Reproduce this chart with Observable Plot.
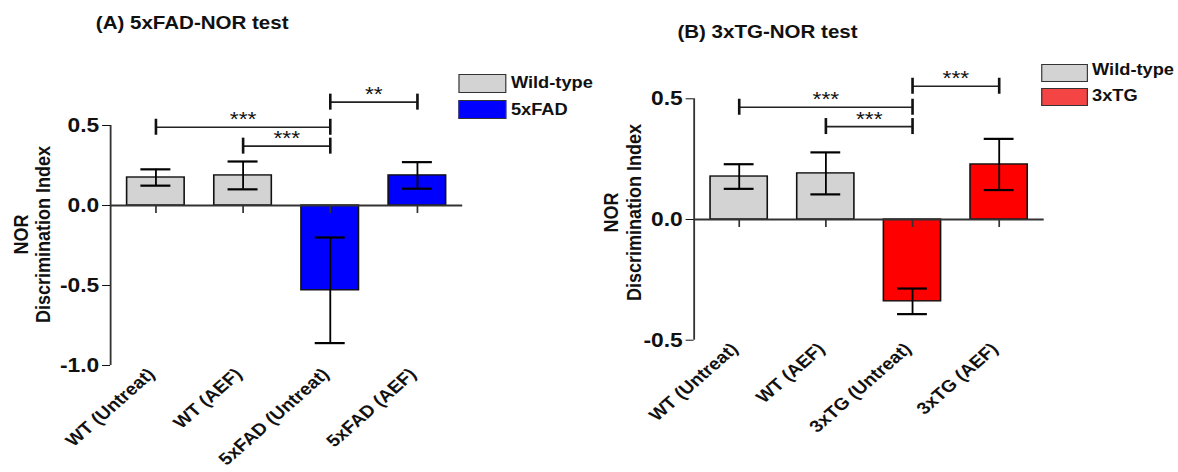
<!DOCTYPE html>
<html><head><meta charset="utf-8">
<script src="https://cdn.jsdelivr.net/npm/d3@7"></script>
<script src="https://cdn.jsdelivr.net/npm/@observablehq/plot@0.6"></script>
<style>
html,body{margin:0;padding:0;background:#fff;overflow:hidden;}
#wrap{position:relative;width:1033px;height:472px;transform:scaleX(1.1404);transform-origin:0 0;font-family:"Liberation Sans",Arial,sans-serif;color:#111;}
.title{position:absolute;font-size:18px;font-weight:bold;line-height:18px;white-space:nowrap;}
.sw{position:absolute;box-sizing:border-box;border:1.5px solid #333;}
.lt{position:absolute;font-size:16px;font-weight:bold;line-height:16px;white-space:nowrap;}
</style></head><body><div id="wrap"></div><script>
// ---------- Panel A data ----------
const titleA = "(A) 5xFAD-NOR test";
const categoriesA = ["WT (Untreat)", "WT (AEF)", "5xFAD (Untreat)", "5xFAD (AEF)"];
const groupsA = ["Wild-type", "Wild-type", "5xFAD", "5xFAD"];
const meansA = [0.175, 0.188, -0.530, 0.188];
const semA = [0.051, 0.087, 0.330, 0.083];
const yTicksA = [-1.0, -0.5, 0.0, 0.5];
const sigFromA = [0, 1, 2];
const sigToA = [2, 2, 3];
const sigYA = [0.489, 0.371, 0.646];
const sigLabelA = ["***", "***", "**"];
const legendLabelsA = ["Wild-type", "5xFAD"];
const barColorsA = ["#d3d3d3", "#0000ff"];
const legendColorsA = ["#d3d3d3", "#0000ff"];

// ---------- Panel B data ----------
const titleB = "(B) 3xTG-NOR test";
const categoriesB = ["WT (Untreat)", "WT (AEF)", "3xTG (Untreat)", "3xTG (AEF)"];
const groupsB = ["Wild-type", "Wild-type", "3xTG", "3xTG"];
const meansB = [0.178, 0.191, -0.339, 0.228];
const semB = [0.051, 0.087, 0.053, 0.106];
const yTicksB = [-0.5, 0.0, 0.5];
const sigFromB = [0, 1, 2];
const sigToB = [2, 2, 3];
const sigYB = [0.465, 0.385, 0.552];
const sigLabelB = ["***", "***", "***"];
const legendLabelsB = ["Wild-type", "3xTG"];
const barColorsB = ["#d3d3d3", "#ff0000"];
const legendColorsB = ["#d3d3d3", "#f44444"];

const yLabel = "NOR\nDiscrimination Index";
const FONT = '"Liberation Sans", Arial, sans-serif';
const XPAD = 0.52, BAR_HALF = 0.33, CAP_HALF = 0.172;

function panel(o) {
  const rows = o.cats.map((c, i) => ({i, cat: c, group: o.groups[i], mean: o.means[i], lo: o.means[i] - o.sems[i], hi: o.means[i] + o.sems[i]}));
  const sig = o.sigFrom.map((f, k) => ({from: f, to: o.sigTo[k], y: o.sigY[k], label: o.sigLabel[k]}));
  const xDomain = [-XPAD, o.cats.length - 1 + XPAD];
  const svg = Plot.plot({
    width: o.width, height: 472,
    marginLeft: o.marginLeft, marginRight: o.marginRight, marginTop: o.marginTop, marginBottom: o.marginBottom,
    style: {fontFamily: FONT, fontSize: "18px", fontWeight: "bold", color: "#111", background: "transparent", overflow: "visible"},
    x: {domain: xDomain},
    y: {domain: o.yDomain},
    color: {domain: o.colorDomain, range: o.colorRange},
    marks: [
      Plot.rectY(rows, {x1: d => d.i - BAR_HALF, x2: d => d.i + BAR_HALF, y: "mean", fill: "group", stroke: "#111", strokeWidth: 1.4}),
      Plot.ruleX(rows, {x: "i", y1: "lo", y2: "hi", stroke: "#000", strokeWidth: 1.6}),
      Plot.ruleY(rows, {y: "hi", x1: d => d.i - CAP_HALF, x2: d => d.i + CAP_HALF, stroke: "#000", strokeWidth: 2.2}),
      Plot.ruleY(rows, {y: "lo", x1: d => d.i - CAP_HALF, x2: d => d.i + CAP_HALF, stroke: "#000", strokeWidth: 2.2}),
      Plot.ruleY([0], {stroke: "#333", strokeWidth: 1.8}),
      Plot.ruleX(rows, {x: "i", y1: 0, y2: 0, insetBottom: -8, stroke: "#333", strokeWidth: 1.5}),
      Plot.ruleX([xDomain[0]], {stroke: "#333", strokeWidth: 1.6}),
      Plot.axisY({ticks: o.yTicks, tickFormat: d => d.toFixed(1), tickSize: 7, tickPadding: 3, label: null, fontSize: 20}),
      Plot.axisX({ticks: o.cats.map((c, i) => i), tickFormat: i => o.cats[i], tickRotate: -45, tickSize: 0, tickPadding: 6, dx: -4, label: null, fontSize: 17}),
      Plot.ruleY(sig, {y: "y", x1: "from", x2: "to", stroke: "#222", strokeWidth: 1.7}),
      Plot.ruleX(sig, {x: "from", y1: "y", y2: "y", insetTop: -8, insetBottom: -8, stroke: "#111", strokeWidth: 2.3}),
      Plot.ruleX(sig, {x: "to", y1: "y", y2: "y", insetTop: -8, insetBottom: -8, stroke: "#111", strokeWidth: 2.3}),
      Plot.text(sig, {x: d => (d.from + d.to) / 2, y: "y", text: "label", lineAnchor: "bottom", dy: -1, fontSize: 20, fontWeight: "normal"}),
      Plot.text([yLabel], {frameAnchor: "left", text: d => d, rotate: -90, textAnchor: "middle", lineAnchor: "middle", dx: o.labelDx, dy: o.labelDy, lineHeight: 1.08, fontSize: 18, fontWeight: "bold"})
    ]
  });
  svg.style.position = "absolute";
  svg.style.left = o.left + "px";
  svg.style.top = "0px";
  return svg;
}

const wrap = document.getElementById("wrap");

wrap.appendChild(panel({
  cats: categoriesA, groups: groupsA, means: meansA, sems: semA,
  yDomain: [-1, 0.5], yTicks: yTicksA,
  sigFrom: sigFromA, sigTo: sigToA, sigY: sigYA, sigLabel: sigLabelA,
  colorDomain: legendLabelsA, colorRange: barColorsA,
  left: 0, width: 510, marginLeft: 96.5, marginRight: 104.7, marginTop: 125, marginBottom: 107,
  labelDx: -68.7, labelDy: -11
}));
wrap.appendChild(panel({
  cats: categoriesB, groups: groupsB, means: meansB, sems: semB,
  yDomain: [-0.5, 0.5], yTicks: yTicksB,
  sigFrom: sigFromB, sigTo: sigToB, sigY: sigYB, sigLabel: sigLabelB,
  colorDomain: legendLabelsB, colorRange: barColorsB,
  left: 510, width: 523, marginLeft: 98.2, marginRight: 117.8, marginTop: 98.3, marginBottom: 132.3,
  labelDx: -62.9, labelDy: -7
}));

function addDiv(cls, text, left, top, extra) {
  const d = document.createElement("div");
  d.className = cls;
  if (text != null) d.textContent = text;
  d.style.left = left + "px";
  d.style.top = top + "px";
  Object.assign(d.style, extra || {});
  wrap.appendChild(d);
}
addDiv("title", titleA, 84, 13.5);
addDiv("title", titleB, 594, 23);

function legend(labels, colors, swLeft, swTops, swW, swH, textLeft, textTops) {
  labels.forEach((lab, k) => {
    addDiv("sw", null, swLeft, swTops[k], {width: swW + "px", height: swH + "px", background: colors[k]});
    addDiv("lt", lab, textLeft, textTops[k]);
  });
}
legend(legendLabelsA, legendColorsA, 402, [74.3, 100], 42.4, 18.6, 448, [74.8, 101.5]);
legend(legendLabelsB, legendColorsB, 913.2, [64, 88.3], 41, 17.5, 957.6, [61.5, 88.2]);
</script></body></html>
